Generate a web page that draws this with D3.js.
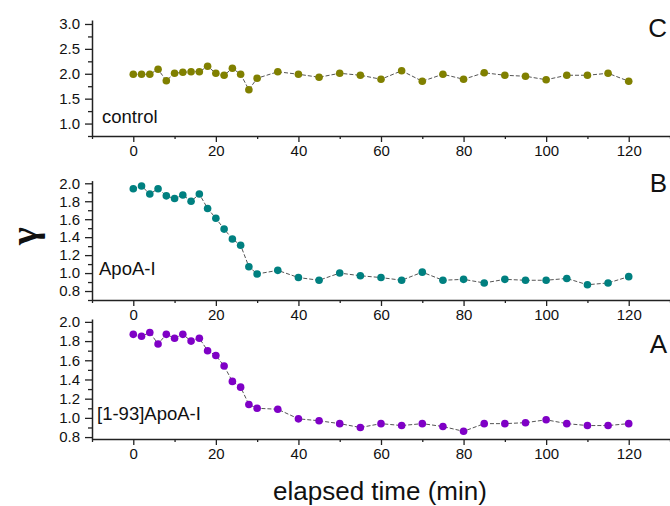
<!DOCTYPE html>
<html>
<head>
<meta charset="utf-8">
<script src="https://cdn.jsdelivr.net/npm/d3@7"></script>
<style>
  html, body { margin: 0; padding: 0; background: #fff; }
  svg { display: block; font-family: "Liberation Sans", Arial, sans-serif; }
</style>
</head>
<body>
<svg id="chart" width="670" height="506"></svg>
<script>
// ---- data ----
const times = [0,2,4,6,8,10,12,14,16,18,20,22,24,26,28,30,35,40,45,50,55,60,65,70,75,80,85,90,95,100,105,110,115,120];
const controlValues = [1.99,1.99,1.99,2.09,1.86,2.01,2.03,2.04,2.04,2.15,2.01,1.97,2.11,1.99,1.68,1.91,2.04,1.99,1.93,2.01,1.97,1.89,2.06,1.85,1.99,1.89,2.02,1.97,1.95,1.88,1.97,1.97,2.01,1.85];
const apoaValues = [1.94,1.97,1.88,1.94,1.86,1.83,1.87,1.80,1.88,1.72,1.61,1.49,1.38,1.31,1.07,0.99,1.03,0.95,0.92,1.00,0.97,0.95,0.92,1.01,0.92,0.93,0.89,0.93,0.92,0.92,0.94,0.87,0.89,0.96];
const trunc93Values = [1.87,1.85,1.89,1.77,1.87,1.83,1.87,1.80,1.83,1.70,1.65,1.54,1.38,1.32,1.14,1.10,1.09,0.99,0.97,0.94,0.90,0.94,0.92,0.94,0.91,0.86,0.94,0.94,0.95,0.98,0.94,0.92,0.92,0.94];
const seriesNames = ["control", "ApoA-I", "[1-93]ApoA-I"];
const panelLetters = ["C", "B", "A"];
const xMajorTicks = [0,20,40,60,80,100,120];
const xMinorTicks = [-10,10,30,50,70,90,110,130];
const yMajorC = [1.0,1.5,2.0,2.5,3.0];
const yMinorC = [0.75,1.25,1.75,2.25,2.75];
const yMajorAB = [0.8,1.0,1.2,1.4,1.6,1.8,2.0];
const yMinorB = [0.7,0.9,1.1,1.3,1.5,1.7,1.9];
const yMinorA = [0.9,1.1,1.3,1.5,1.7,1.9];
const xTitle = "elapsed time (min)";
const yTitle = "γ";

// ---- layout ----
const svg = d3.select("#chart");
const FONT = "'Liberation Sans', Arial, sans-serif";
const left = 92, right = 670;
const x = d3.scaleLinear().domain([-10, 130]).range([left, right]);

const panels = [
  { values: controlValues, name: seriesNames[0], letter: panelLetters[0], color: "#808000",
    top: 20, bottom: 136, domain: [0.75, 3.08], major: yMajorC, minor: yMinorC,
    labelPos: [102, 123], letterBase: 37 },
  { values: apoaValues, name: seriesNames[1], letter: panelLetters[1], color: "#008080",
    top: 180.6, bottom: 300, domain: [0.7, 2.03], major: yMajorAB, minor: yMinorB,
    labelPos: [99, 275], letterBase: 192 },
  { values: trunc93Values, name: seriesNames[2], letter: panelLetters[2], color: "#7f00c6",
    top: 319, bottom: 439, domain: [0.78, 2.03], major: yMajorAB, minor: yMinorA,
    labelPos: [97, 420], letterBase: 353 }
];

const axisColor = "#222";
const fmt = d3.format(".1f");

panels.forEach(p => {
  const y = d3.scaleLinear().domain(p.domain).range([p.bottom, p.top]);
  const g = svg.append("g");

  // x axis major
  const xa = g.append("g").attr("transform", `translate(0,${p.bottom})`)
    .call(d3.axisBottom(x).tickValues(xMajorTicks).tickSize(6).tickSizeOuter(0).tickPadding(3).tickFormat(d3.format("d")));
  xa.attr("font-family", FONT);
  xa.select(".domain").attr("stroke", axisColor).attr("stroke-width", 1.5);
  xa.selectAll(".tick line").attr("stroke", axisColor).attr("stroke-width", 1.3);
  xa.selectAll(".tick text").attr("font-size", 15).attr("fill", "#111");
  // x axis minor
  const xm = g.append("g").attr("transform", `translate(0,${p.bottom})`)
    .call(d3.axisBottom(x).tickValues(xMinorTicks).tickSize(3).tickSizeOuter(0).tickFormat(""));
  xm.select(".domain").remove();
  xm.selectAll(".tick line").attr("stroke", axisColor).attr("stroke-width", 1.3);

  // y axis major
  const ya = g.append("g").attr("transform", `translate(${left},0)`)
    .call(d3.axisLeft(y).tickValues(p.major).tickSize(7).tickSizeOuter(0).tickPadding(5).tickFormat(fmt));
  ya.attr("font-family", FONT);
  ya.select(".domain").attr("stroke", axisColor).attr("stroke-width", 1.5);
  ya.selectAll(".tick line").attr("stroke", axisColor).attr("stroke-width", 1.3);
  ya.selectAll(".tick text").attr("font-size", 15).attr("fill", "#111");
  // y axis minor
  const ym = g.append("g").attr("transform", `translate(${left},0)`)
    .call(d3.axisLeft(y).tickValues(p.minor).tickSize(4).tickSizeOuter(0).tickFormat(""));
  ym.select(".domain").remove();
  ym.selectAll(".tick line").attr("stroke", axisColor).attr("stroke-width", 1.3);

  // line
  const data = times.map((t, i) => ({ t, v: p.values[i] }));
  g.append("path").datum(data)
    .attr("fill", "none").attr("stroke", "#555").attr("stroke-width", 1)
    .attr("stroke-dasharray", "4,2")
    .attr("d", d3.line().x(d => x(d.t)).y(d => y(d.v)));

  g.selectAll("circle.pt").data(data).enter().append("circle")
    .attr("class", "pt")
    .attr("cx", d => x(d.t)).attr("cy", d => y(d.v)).attr("r", 3.8)
    .attr("fill", p.color);

  // series label
  g.append("text").attr("x", p.labelPos[0]).attr("y", p.labelPos[1])
    .attr("font-size", 18.5).attr("fill", "#111").text(p.name);

  // panel letter
  g.append("text").attr("x", 667).attr("y", p.letterBase)
    .attr("text-anchor", "end").attr("font-size", 26).attr("fill", "#111").text(p.letter);
});

// x title
svg.append("text").attr("x", 380).attr("y", 500).attr("text-anchor", "middle")
  .attr("font-size", 26).attr("fill", "#111").text(xTitle);

// y title
svg.append("text").attr("transform", "translate(37,236) rotate(-90)")
  .attr("text-anchor", "middle").attr("font-size", 38).attr("font-weight", "bold")
  .attr("font-family", "'Liberation Serif', 'Times New Roman', serif")
  .attr("fill", "#111").text(yTitle);
</script>
</body>
</html>
